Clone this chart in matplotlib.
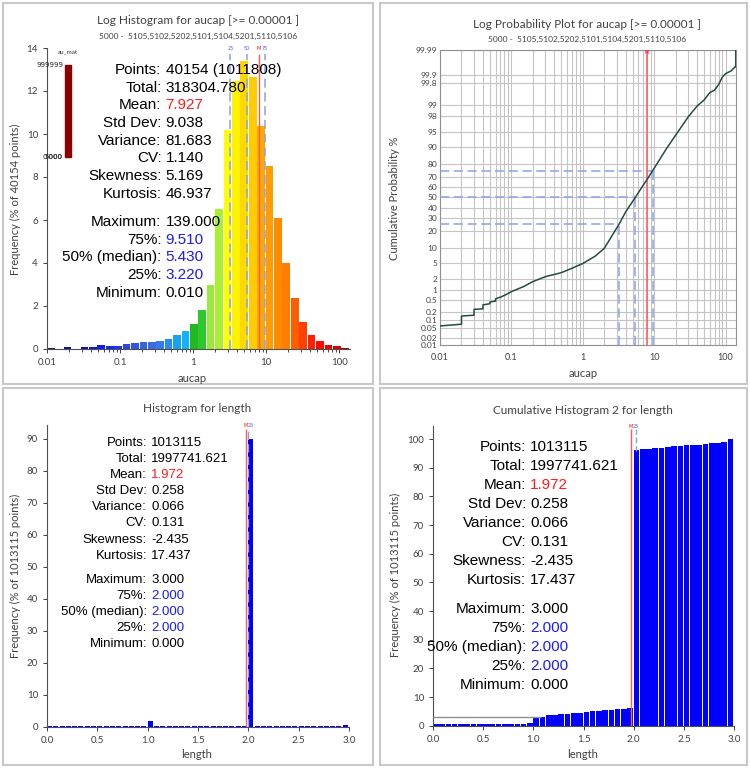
import math
import numpy as np
import matplotlib
matplotlib.use('Agg')
import matplotlib.pyplot as plt
from matplotlib.patches import Rectangle
from matplotlib.ticker import FixedLocator, NullLocator, LogLocator, NullFormatter

# ---------------- data ----------------
aucap_freq = [0.04, 0.0, 0.07, 0.0, 0.07, 0.10, 0.19, 0.16, 0.16, 0.22, 0.26, 0.33,
              0.33, 0.37, 0.45, 0.65, 0.85, 1.18, 1.81, 2.98, 6.50, 10.20, 12.45, 13.38,
              12.64, 10.39, 8.50, 6.08, 4.02, 2.39, 1.26, 0.64, 0.39, 0.19, 0.12, 0.05]
aucap_colors = ['#14146e', '#141480', '#12128a', '#1010a0', '#0a0ad2', '#0a14e6', '#0a1ef0',
                '#1428f0', '#1e32f0', '#2846ea', '#3056e6', '#3662e4', '#3a6ae4', '#327ce8',
                '#2a8cec', '#1aa2f2', '#10b4f8', '#22b822', '#2ec82e', '#9be83c', '#a8f030',
                '#ffff00', '#fff200', '#ffd800', '#ffcc00', '#ffa800', '#ff9c00', '#ff8c00',
                '#ff7e00', '#ff5e00', '#ff4000', '#ff2000', '#ff0800', '#f00000', '#dc0000',
                '#9a0000']

aucap_quart = [3.22, 5.43, 9.51]
aucap_quart_pct = [25, 50, 75]
aucap_quart_lbl = ['25', '50', '75']
aucap_mean = 7.927

prob_x = [0.01, 0.02, 0.02, 0.03, 0.03, 0.04, 0.04, 0.05, 0.05, 0.06, 0.06, 0.07, 0.08,
          0.09, 0.1, 0.15, 0.2, 0.3, 0.5, 0.7, 1.0, 1.5, 2.0, 3.22, 4.0, 5.43, 7.0, 7.93,
          9.51, 15, 20, 30, 40, 50, 60, 70, 80, 90, 100, 120, 135, 139, 139]
prob_p = [0.06, 0.07, 0.14, 0.15, 0.24, 0.25, 0.34, 0.37, 0.42, 0.45, 0.53, 0.60, 0.68,
          0.78, 0.88, 1.25, 1.7, 2.3, 2.9, 3.7, 4.8, 7.0, 10.0, 25.0, 36.0, 50.0, 62.0,
          67.5, 75.0, 89.3, 94.2, 97.9, 98.95, 99.3, 99.59, 99.66, 99.78, 99.88, 99.91,
          99.93, 99.95, 99.95, 99.99]
prob_ticks = [0.01, 0.02, 0.05, 0.1, 0.2, 0.5, 1, 2, 5, 10, 20, 30, 40, 50, 60, 70, 80,
              90, 95, 98, 99, 99.8, 99.9, 99.99]
prob_tick_lbl = ['0.01', '0.02', '0.05', '0.1', '0.2', '0.5', '1', '2', '5', '10', '20',
                 '30', '40', '50', '60', '70', '80', '90', '95', '98', '99', '99.8',
                 '99.9', '99.99']

length_freq = [0.35, 0.28, 0.30, 0.30, 0.28, 0.30, 0.30, 0.28, 0.30, 0.30, 0.30, 0.30,
               0.32, 0.35, 0.35, 0.35, 1.80, 0.35, 0.40, 0.30, 0.30, 0.28, 0.30, 0.30,
               0.28, 0.30, 0.30, 0.30, 0.28, 0.30, 0.30, 0.32, 90.0, 0.30, 0.28, 0.30,
               0.30, 0.28, 0.30, 0.30, 0.28, 0.30, 0.30, 0.30, 0.28, 0.30, 0.32, 0.60]
length_cum = [0.45, 0.47, 0.48, 0.50, 0.51, 0.52, 0.53, 0.54, 0.55, 0.56, 0.57, 0.58,
              0.60, 0.72, 0.76, 0.80, 2.76, 3.10, 3.56, 3.80, 4.00, 4.25, 4.50, 4.60,
              4.80, 5.06, 5.30, 5.50, 5.60, 5.86, 6.00, 6.20, 96.3, 96.55, 96.7, 96.9,
              97.0, 97.2, 97.5, 97.5, 97.8, 98.0, 98.0, 98.3, 98.5, 98.7, 99.0, 100.0]
length_mean = 1.972
length_quart = 2.0

stat_labels = ['Points:', 'Total:', 'Mean:', 'Std Dev:', 'Variance:', 'CV:', 'Skewness:',
               'Kurtosis:', 'Maximum:', '75%:', '50% (median):', '25%:', 'Minimum:']
aucap_stats = ['40154 (1011808)', '318304.780', '7.927', '9.038', '81.683', '1.140',
               '5.169', '46.937', '139.000', '9.510', '5.430', '3.220', '0.010']
length_stats = ['1013115', '1997741.621', '1.972', '0.258', '0.066', '0.131', '-2.435',
                '17.437', '3.000', '2.000', '2.000', '2.000', '0.000']
stat_colors = ['black', 'black', '#ff1a1a', 'black', 'black', 'black', 'black', 'black',
               'black', '#1a1aff', '#1a1aff', '#1a1aff', 'black']

subtitle = '5000 -  5105,5102,5202,5101,5104,5201,5110,5106'

# ---------------- helpers ----------------
W, H = 750, 769
UI = 'Lato'
STAT = 'Liberation Sans'
QBLUE = '#8ca2e8'
MRED = '#ff5a5a'
TXT = '#404040'

fig = plt.figure(figsize=(W / 100, H / 100), dpi=100)


def px_axes(l, t, r, b):
    return fig.add_axes([l / W, 1 - b / H, (r - l) / W, (b - t) / H])


def ftext(x, y, s, **kw):
    kw.setdefault('family', UI)
    kw.setdefault('color', TXT)
    fig.text(x / W, 1 - y / H, s, **kw)


def frame(l, t, r, b):
    fig.patches.append(Rectangle((l / W, 1 - b / H), (r - l) / W, (b - t) / H,
                                 transform=fig.transFigure, fill=False,
                                 ec='#c8c8c8', lw=1.5))


def stats_block(xc, y0, step, gap, values, size):
    for i, (lab, val, col) in enumerate(zip(stat_labels, values, stat_colors)):
        y = y0 + i * step + (gap if i >= 8 else 0)
        ftext(xc, y, lab, ha='right', va='center', fontsize=size, family=STAT, color='black')
        ftext(xc + 4, y, val, ha='left', va='center', fontsize=size, family=STAT, color=col)


def style_axes(ax, box=False, size=7):
    for s in ['left', 'bottom', 'top', 'right']:
        ax.spines[s].set_color('#505050' if not box else '#909090')
        ax.spines[s].set_linewidth(0.8)
    if not box:
        ax.spines['top'].set_visible(False)
        ax.spines['right'].set_visible(False)
    ax.tick_params(labelsize=size, colors=TXT, length=3, width=0.7)
    for t in ax.get_xticklabels() + ax.get_yticklabels():
        t.set_family(UI)


# probability (normal quantile) scale without scipy
_A = [-3.969683028665376e+01, 2.209460984245205e+02, -2.759285104469687e+02,
      1.383577518672690e+02, -3.066479806614716e+01, 2.506628277459239e+00]
_B = [-5.447609879822406e+01, 1.615858368580409e+02, -1.556989798598866e+02,
      6.680131188771972e+01, -1.328068155288572e+01]
_C = [-7.784894002430293e-03, -3.223964580411365e-01, -2.400758277161838e+00,
      -2.549671010229583e+00, 4.374664141464968e+00, 2.938163982698783e+00]
_D = [7.784695709041462e-03, 3.224671290700398e-01, 2.445134137142996e+00,
      3.754408361870156e+00]


def _ppf(p):
    p = np.clip(p, 1e-12, 1 - 1e-12)
    out = np.empty_like(p)
    lo = p < 0.02425
    hi = p > 1 - 0.02425
    mid = ~(lo | hi)
    q = np.sqrt(-2 * np.log(p[lo]))
    out[lo] = np.polyval(_C, q) / (np.polyval(_D + [0], q) + 1)
    q = np.sqrt(-2 * np.log(1 - p[hi]))
    out[hi] = -np.polyval(_C, q) / (np.polyval(_D + [0], q) + 1)
    q = p[mid] - 0.5
    r = q * q
    out[mid] = np.polyval(_A, r) * q / (np.polyval(_B + [0], r) + 1)
    return out


def prob_fwd(pct):
    a = np.asarray(pct, dtype=float)
    return _ppf(np.atleast_1d(a).ravel() / 100.0).reshape(a.shape)


def prob_inv(z):
    z = np.asarray(z, dtype=float)
    x = np.abs(z) / math.sqrt(2)
    t = 1 / (1 + 0.3275911 * x)
    y = 1 - (((((1.061405429 * t - 1.453152027) * t) + 1.421413741) * t
              - 0.284496736) * t + 0.254829592) * t * np.exp(-x * x)
    return 50 * (1 + np.sign(z) * y)


# ---------------- panel frames ----------------
frame(3, 3, 373, 384)
frame(380, 3, 747, 384)
frame(3, 388, 373, 765)
frame(380, 388, 747, 765)

# ---------------- top left: log histogram ----------------
ax1 = px_axes(47, 48, 350, 349)
edges = np.logspace(-2, np.log10(139), len(aucap_freq) + 1)
ax1.bar(edges[:-1], aucap_freq, width=np.diff(edges) * 0.9, align='edge',
        color=aucap_colors, linewidth=0)
ax1.set_xscale('log')
ax1.set_xlim(0.01, 140)
ax1.set_ylim(0, 14)
ax1.set_xticks([0.01, 0.1, 1, 10, 100], ['0.01', '0.1', '1', '10', '100'])
ax1.xaxis.set_minor_locator(LogLocator(subs=np.arange(2, 10)))
ax1.xaxis.set_minor_formatter(NullFormatter())
ax1.tick_params(axis='x', which='minor', length=2, width=0.5)
ax1.set_yticks(range(0, 15, 2))
for q, lbl in zip(aucap_quart, aucap_quart_lbl):
    ax1.vlines(q, 0, 13.7, colors=QBLUE, linestyles=(0, (6, 3)), lw=1.1)
    ax1.text(q, 14, lbl, ha='center', va='center', fontsize=3.5, color='#4060ff', clip_on=False)
ax1.vlines(aucap_mean, 0, 13.7, colors=MRED, lw=1)
ax1.text(aucap_mean, 14, 'M', ha='center', va='center', fontsize=3.5, color='red', clip_on=False)
style_axes(ax1)

# small legend bar
fig.patches.append(Rectangle((65 / W, 1 - 157 / H), 5.5 / W, 92 / H,
                             transform=fig.transFigure, color='#8b0000'))
ftext(68, 52, 'au_mat', ha='center', va='center', fontsize=4.5, color='#333333')
ftext(63, 65, '999999', ha='right', va='center', fontsize=5, color='#222222', family='DejaVu Sans')
ftext(63, 157, '0.000', ha='right', va='center', fontsize=5, color='#222222', family='DejaVu Sans')
ftext(62, 157, '5000', ha='right', va='center', fontsize=5, color='#222222', family='DejaVu Sans')

ftext(198, 21, 'Log Histogram for aucap [>= 0.00001 ]', ha='center', va='center', fontsize=8.5)
ftext(198, 36, subtitle, ha='center', va='center', fontsize=6)
ftext(192, 378, 'aucap', ha='center', va='center', fontsize=8)
ftext(15, 199, 'Frequency (% of 40154 points)', ha='center', va='center', fontsize=8, rotation=90)
stats_block(161.5, 70, 17.7, 10.4, aucap_stats, 11)

# ---------------- top right: log probability ----------------
ax2 = px_axes(440, 50, 736, 345)
ax2.set_xscale('log')
ax2.set_yscale('function', functions=(prob_fwd, prob_inv))
ax2.set_xlim(0.01, 140)
ax2.set_ylim(0.01, 99.99)
ax2.yaxis.set_major_locator(FixedLocator(prob_ticks))
ax2.set_yticks(prob_ticks, prob_tick_lbl)
ax2.yaxis.set_minor_locator(NullLocator())
ax2.set_xticks([0.01, 0.1, 1, 10, 100], ['0.01', '0.1', '1', '10', '100'])
ax2.xaxis.set_minor_locator(LogLocator(subs=np.arange(2, 10)))
ax2.xaxis.set_minor_formatter(NullFormatter())
ax2.grid(True, which='both', axis='x', color='#c4c4c4', lw=0.8)
ax2.grid(True, which='major', axis='y', color='#c4c4c4', lw=0.8)
ax2.plot(prob_x, prob_p, color='#244a44', lw=1.1, zorder=4)
for q, p in zip(aucap_quart, aucap_quart_pct):
    ax2.hlines(p, 0.01, q, colors=QBLUE, linestyles=(0, (6, 3)), lw=1.1, zorder=3)
    ax2.vlines(q, 0.01, p, colors=QBLUE, linestyles=(0, (6, 3)), lw=1.1, zorder=3)
ax2.axvline(aucap_mean, color=MRED, lw=1.1, zorder=3)
ax2.text(aucap_mean, 99.99, 'M', ha='center', va='top', fontsize=3.5, color='red')
style_axes(ax2, box=True, size=6.5)
ax2.tick_params(which='both', length=0)
ax2.tick_params(axis='y', labelsize=6, pad=2)
ax2.tick_params(axis='x', pad=6)

ftext(587, 25, 'Log Probability Plot for aucap [>= 0.00001 ]', ha='center', va='center', fontsize=8.5)
ftext(587, 39, subtitle, ha='center', va='center', fontsize=6)
ftext(583, 374, 'aucap', ha='center', va='center', fontsize=8)
ftext(394, 198, 'Cumulative Probability %', ha='center', va='center', fontsize=8, rotation=90)

# ---------------- bottom left: histogram ----------------
ax3 = px_axes(47, 425, 349, 727)
ledges = np.linspace(0, 3, len(length_freq) + 1)
ax3.bar(ledges[:-1], length_freq, width=np.diff(ledges) * 0.8, align='edge',
        color='#0000ff', linewidth=0)
ax3.set_xlim(0, 3)
ax3.set_ylim(0, 94.3)
ax3.set_xticks(np.arange(0, 3.01, 0.5), ['0.0', '0.5', '1.0', '1.5', '2.0', '2.5', '3.0'])
ax3.set_yticks(range(0, 91, 10))
ax3.vlines(length_mean, 0, 93, colors=MRED, lw=1, zorder=3)
ax3.vlines(length_quart, 0, 93, colors=QBLUE, linestyles=(0, (6, 3)), lw=1, zorder=1)
ax3.text(length_mean, 94, 'M', ha='center', va='center', fontsize=3.5, color='red', clip_on=False)
ax3.text(length_quart + 0.02, 94, '25', ha='center', va='center', fontsize=3.5, color='#4060ff', clip_on=False)
style_axes(ax3)

ftext(197, 409, 'Histogram for length', ha='center', va='center', fontsize=8.5)
ftext(197, 755, 'length', ha='center', va='center', fontsize=8)
ftext(15, 576, 'Frequency (% of 1013115 points)', ha='center', va='center', fontsize=8, rotation=90)
stats_block(147, 443, 16.1, 8.2, length_stats, 9.5)

# ---------------- bottom right: cumulative histogram ----------------
ax4 = px_axes(433, 426, 734, 725.7)
ax4.bar(ledges[:-1], length_cum, width=np.diff(ledges) * 0.9, align='edge',
        color='#0000ff', linewidth=0)
ax4.set_xlim(0, 3)
ax4.set_ylim(0, 104.6)
ax4.set_xticks(np.arange(0, 3.01, 0.5), ['0.0', '0.5', '1.0', '1.5', '2.0', '2.5', '3.0'])
ax4.set_yticks(range(0, 101, 10))
ax4.hlines(3.1, 0, 1.08, colors='#909090', lw=1, zorder=3)
ax4.vlines(length_mean, 0, 103.5, colors=MRED, lw=1, zorder=3)
ax4.vlines(length_quart + 0.02, 96, 103.5, colors=QBLUE, linestyles=(0, (4, 2)), lw=1, zorder=3)
ax4.text(length_mean, 104.3, 'M', ha='center', va='center', fontsize=3.5, color='red', clip_on=False)
ax4.text(length_quart + 0.02, 104.3, '25', ha='center', va='center', fontsize=3.5, color='#4060ff', clip_on=False)
style_axes(ax4)

ftext(583, 410, 'Cumulative Histogram 2 for length', ha='center', va='center', fontsize=8.5)
ftext(583, 754, 'length', ha='center', va='center', fontsize=8)
ftext(395, 575, 'Frequency (% of 1013115 points)', ha='center', va='center', fontsize=8, rotation=90)
stats_block(526, 446.7, 19.05, 10, length_stats, 11)

fig.savefig('out.png', dpi=100)
